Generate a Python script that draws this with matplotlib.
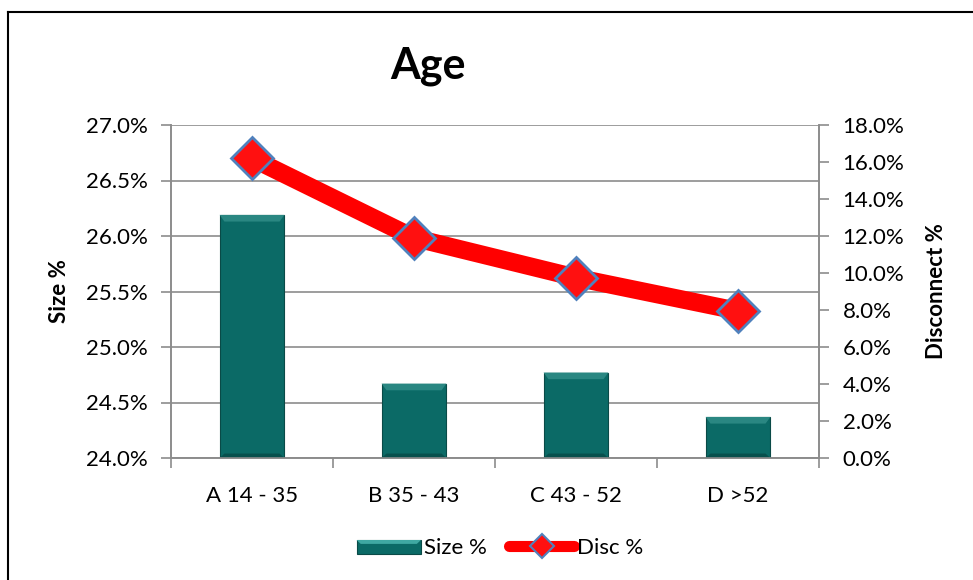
import matplotlib
matplotlib.use("Agg")
import matplotlib.pyplot as plt
from matplotlib.ticker import FuncFormatter, FixedLocator
from matplotlib.patches import Rectangle, Polygon
from matplotlib.lines import Line2D
from matplotlib.legend_handler import HandlerBase

categories = ["A 14 - 35", "B 35 - 43", "C 43 - 52", "D >52"]
size_pct = [26.19, 24.67, 24.77, 24.37]
disc_pct = [16.2, 11.9, 9.75, 7.95]

plt.rcParams["font.family"] = ["Lato", "DejaVu Sans"]

fig = plt.figure(figsize=(9.73, 5.8), dpi=100)
ax = fig.add_axes([171 / 973, 1 - 458 / 580, 648 / 973, 333 / 580])
ax2 = ax.twinx()

bar_color = "#0B6A66"
grid_color = "#8C8C8C"
fs = 16
x = list(range(len(categories)))
bar_w = 0.4

ax.set_xlim(-0.5, len(categories) - 0.5)
ax.set_ylim(24.0, 27.0)
ax2.set_ylim(0, 18)

bars = ax.bar(x, size_pct, width=bar_w, bottom=0, color=bar_color,
              edgecolor="#0A4A47", linewidth=0.8, zorder=3)

# bevel highlight along the top edge of each bar
for b in bars:
    x0, w, top = b.get_x(), b.get_width(), b.get_height()
    bev = 0.06
    ax.add_patch(Polygon([(x0, top), (x0 + w, top), (x0 + w - 0.03, top - bev),
                          (x0 + 0.03, top - bev)], closed=True,
                         facecolor="#2A8782", edgecolor="none", zorder=4))
    ax.add_patch(Polygon([(x0, 24.0), (x0 + w, 24.0), (x0 + w - 0.03, 24.0 + 0.04),
                          (x0 + 0.03, 24.0 + 0.04)], closed=True,
                         facecolor="#07504D", edgecolor="none", zorder=4))

ax.set_yticks([24.0 + 0.5 * i for i in range(7)])
ax.yaxis.set_major_formatter(FuncFormatter(lambda v, p: f"{v:.1f}%"))
ax.yaxis.grid(True, color=grid_color, linewidth=1.2, zorder=0)
ax.set_axisbelow(True)

ax.set_xticks(x)
ax.set_xticklabels(categories)
ax.xaxis.set_minor_locator(FixedLocator([i - 0.5 for i in range(len(categories) + 1)]))
ax.tick_params(axis="x", which="major", length=0, pad=20, labelsize=fs)
ax.tick_params(axis="x", which="minor", length=7, width=1.2, color=grid_color)
ax.tick_params(axis="y", length=7, width=1.2, color=grid_color, labelsize=fs, pad=10)

ax2.plot(x, disc_pct, color="#FF0000", linewidth=13, solid_capstyle="round",
         solid_joinstyle="round", zorder=5)
ax2.plot(x, disc_pct, linestyle="none", marker="D", markersize=21,
         markerfacecolor="#FF1010", markeredgecolor="#4F81BD",
         markeredgewidth=2, zorder=6)
ax2.set_yticks([2 * i for i in range(10)])
ax2.yaxis.set_major_formatter(FuncFormatter(lambda v, p: f"{v:.1f}%"))
ax2.tick_params(axis="y", length=7, width=1.2, color=grid_color, labelsize=fs, pad=10)

for a in (ax, ax2):
    for s in a.spines.values():
        s.set_color(grid_color)
        s.set_linewidth(1.2)
    a.spines["top"].set_visible(False)

ax.set_ylabel("Size %", fontsize=fs, fontweight="bold")
ax2.set_ylabel("Disconnect %", fontsize=fs, fontweight="bold", rotation=90)
ax.yaxis.set_label_coords(-(171 - 70) / 648, 0.5)
ax2.yaxis.set_label_coords((926 - 171) / 648, 0.5)

fig.text(428 / 973, 1 - 66 / 580, "Age", ha="center", va="center",
         fontsize=31, fontweight="bold")

# outer chart frame
fig.add_artist(Line2D([8 / 973, 8 / 973], [0, 1 - 12 / 580], color="black", linewidth=1.5))
fig.add_artist(Line2D([8 / 973, 1], [1 - 12 / 580, 1 - 12 / 580], color="black", linewidth=1.5))


class BarHandle(HandlerBase):
    def create_artists(self, legend, orig, xd, yd, w, h, fontsize, trans):
        r = Rectangle((xd, yd), w, h * 0.9, facecolor=bar_color,
                      edgecolor="#0A4A47", linewidth=0.8, transform=trans)
        t = Polygon([(xd, yd + h * 0.9), (xd + w, yd + h * 0.9),
                     (xd + w - 3, yd + h * 0.65), (xd + 3, yd + h * 0.65)],
                    facecolor="#3FA8A2", edgecolor="none", transform=trans)
        return [r, t]


bar_proxy = Rectangle((0, 0), 1, 1)
line_proxy = Line2D([], [], color="#FF0000", linewidth=8, solid_capstyle="round",
                    marker="D", markersize=12, markerfacecolor="#FF1010",
                    markeredgecolor="#4F81BD", markeredgewidth=1.5)
fig.legend([bar_proxy, line_proxy], ["Size %", "Disc %"],
           handler_map={bar_proxy: BarHandle()},
           loc="center", bbox_to_anchor=(500 / 973, 1 - 548 / 580),
           ncol=2, frameon=False, fontsize=fs, handlelength=2.9,
           handletextpad=0.15, columnspacing=1.0)

fig.savefig("out.png", dpi=100)
